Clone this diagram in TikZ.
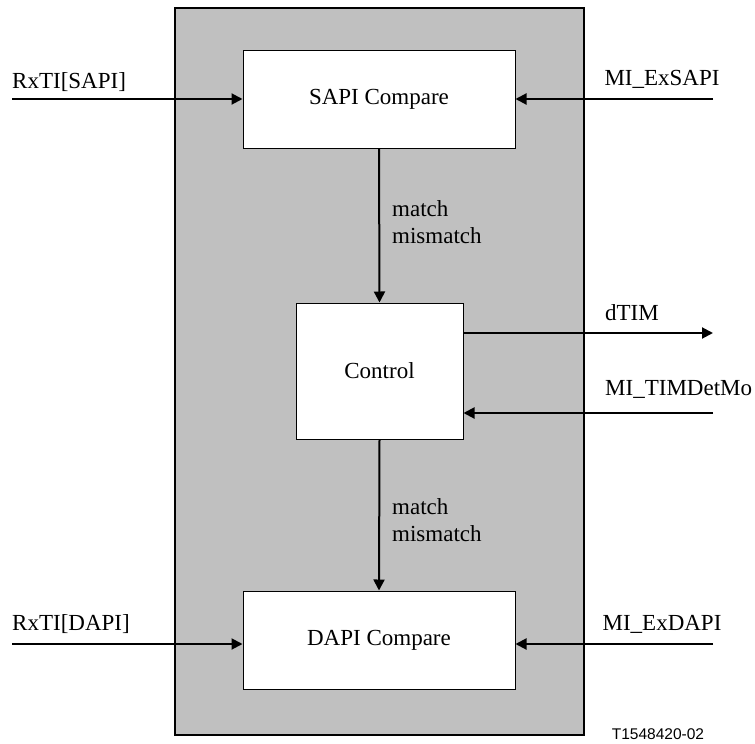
\documentclass[tikz,border=0pt]{standalone}
\usepackage{fontspec}
\setmainfont{Liberation Serif}
\newfontfamily\tagfont{Liberation Sans}
\usetikzlibrary{arrows,arrows.meta}
\definecolor{panelgray}{RGB}{192,192,192}
\tikzset{
	blockbox/.style={draw=black,line width=1pt,fill=white,inner sep=0pt},
	sigline/.style={line width=2pt,->},
	siglabel/.style={inner sep=0pt}
}

\begin{document}
\begin{tikzpicture}[line cap=butt,line join=miter,>={Triangle[length=11pt,width=11pt]},x=1pt,y=-1pt,font=\fontsize{23}{27}\selectfont]
		\useasboundingbox (0,0) rectangle (755,744);
		\draw [line width=1.5pt,fill=panelgray] (175,8) rectangle (584,735);
		% blocks
		\node [blockbox,minimum width=272pt,minimum height=98pt] (sapi) at (379,99) {SAPI Compare};
		\node [blockbox,minimum width=167pt,minimum height=136pt] (ctrl) at (379.5,371) {Control};
		\node [blockbox,minimum width=272pt,minimum height=98pt] (dapi) at (379,640) {DAPI Compare};
		% free ends
		\coordinate (rxsIn) at (12,99);
		\coordinate (exsIn) at (713,99);
		\coordinate (timOut) at (713,333);
		\coordinate (detIn) at (713,413);
		\coordinate (rxdIn) at (12,644);
		\coordinate (exdIn) at (713,644);
		\draw [sigline] (rxsIn) -- (sapi.west |- rxsIn);
		\draw [sigline] (exsIn) -- (sapi.east |- exsIn);
		\draw [sigline] (sapi.south) -- (ctrl.north);
		\draw [sigline] (ctrl.east |- timOut) -- (timOut);
		\draw [sigline] (detIn) -- (ctrl.east |- detIn);
		\draw [sigline] (ctrl.south) -- (dapi.north);
		\draw [sigline] (rxdIn) -- (dapi.west |- rxdIn);
		\draw [sigline] (exdIn) -- (dapi.east |- exdIn);
		% labels
		\node [siglabel,anchor=west] (lrxs) at (12,82) {RxTI[SAPI]};
		\node [siglabel] (lexs) at (662,79) {MI\_ExSAPI};
		\node [siglabel,anchor=west] (lm1) at (392,209) {match};
		\node [siglabel,anchor=west] (lmm1) at (392,236) {mismatch};
		\node [siglabel] (ltim) at (632,313) {dTIM};
		\node [siglabel,anchor=west] (ldet) at (605,389) {MI\_TIMDetMo};
		\node [siglabel,anchor=west] (lm2) at (392,507) {match};
		\node [siglabel,anchor=west] (lmm2) at (392,534) {mismatch};
		\node [siglabel,anchor=west] (lrxd) at (12,624) {RxTI[DAPI]};
		\node [siglabel] (lexd) at (662,624) {MI\_ExDAPI};
		\node [siglabel,font=\tagfont\fontsize{15.5}{18}\selectfont] (tag) at (658,734) {T1548420-02};
	\end{tikzpicture}
\end{document}
